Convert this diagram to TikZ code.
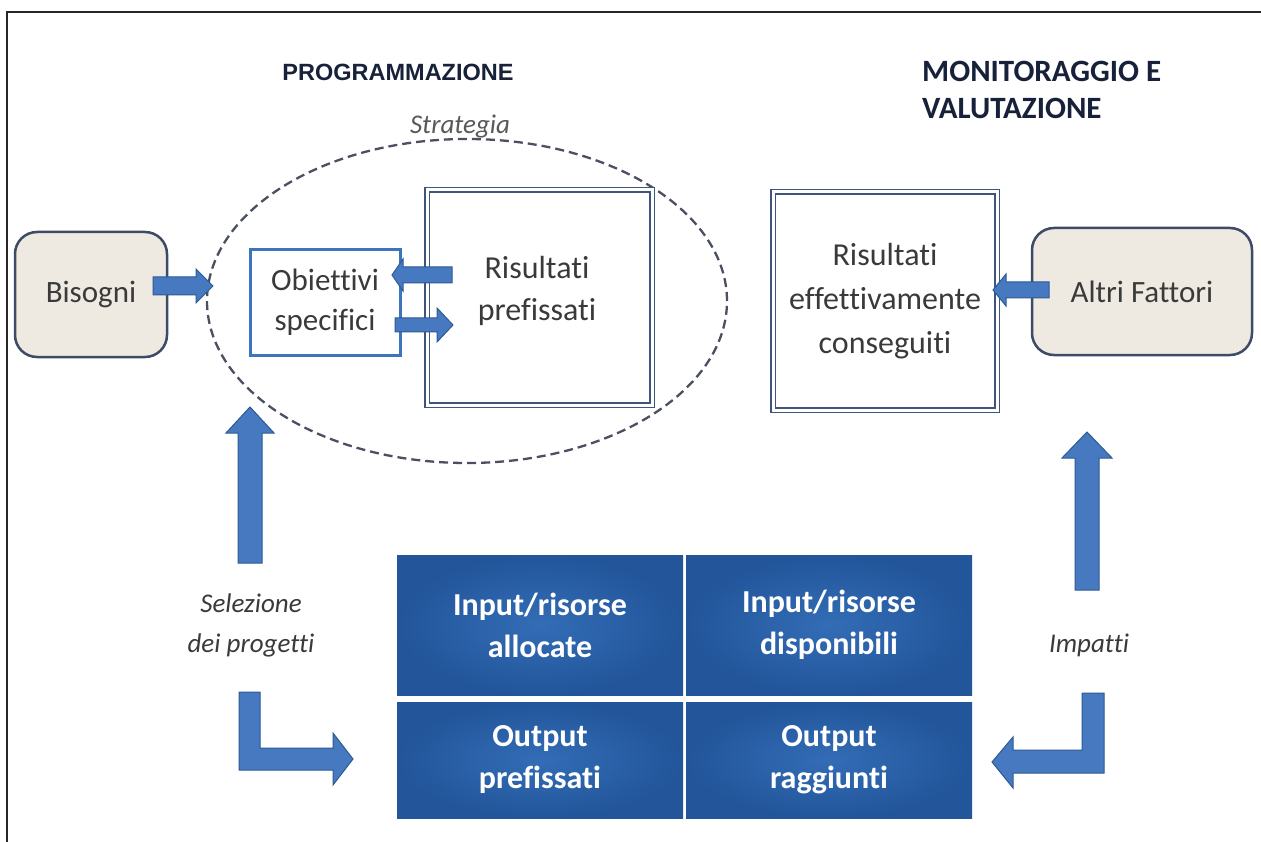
\documentclass[tikz,border=0pt]{standalone}
\usepackage{fontspec}
\setmainfont{Carlito}[Ligatures={NoCommon}]
\newfontfamily\arialfont{Liberation Sans}
\usetikzlibrary{shapes.geometric}
\definecolor{beige}{HTML}{EEEAE1}
\definecolor{boxedge}{HTML}{3D4B66}
\definecolor{goalblue}{HTML}{3C74BD}
\definecolor{dblc}{HTML}{3E5478}
\definecolor{txt}{HTML}{3A3A3A}
\definecolor{head}{HTML}{18213A}
\definecolor{dashc}{HTML}{4A5062}
\definecolor{arrfill}{HTML}{4679BF}
\definecolor{arrdraw}{HTML}{2D5A94}
\definecolor{cellin}{HTML}{336DB6}
\definecolor{cellout}{HTML}{22559A}
\newcommand{\harr}[6]{% start x, head base x, tip x, y, shaft half, head half
  \filldraw[barrow] (#1,#4-#5) -- (#2,#4-#5) -- (#2,#4-#6) -- (#3,#4) -- (#2,#4+#6) -- (#2,#4+#5) -- (#1,#4+#5) -- cycle;}
\newcommand{\varr}[6]{% start y, head base y, tip y, x, shaft half, head half
  \filldraw[barrow] (#4-#5,#1) -- (#4-#5,#2) -- (#4-#6,#2) -- (#4,#3) -- (#4+#6,#2) -- (#4+#5,#2) -- (#4+#5,#1) -- cycle;}
\begin{document}
\begin{tikzpicture}[x=1pt,y=-1pt,
  softbox/.style={draw=boxedge, line width=2.5pt, fill=beige, rounded corners=22pt,
    font=\fontsize{31}{42}\selectfont, text=txt, align=center, inner sep=0pt},
  goalbox/.style={draw=goalblue, line width=3pt, fill=white, align=center,
    font=\fontsize{31}{40}\selectfont, text=txt, inner sep=0pt},
  dblbox/.style={draw=dblc, double=white, double distance=3pt, line width=1.8pt, fill=white,
    align=center, font=\fontsize{32}{44}\selectfont, text=txt, inner sep=0pt},
  cell/.style={inner color=cellin, outer color=cellout, text=white, align=center,
    font=\bfseries\fontsize{32}{42}\selectfont, inner sep=0pt},
  lbl/.style={font=\itshape\fontsize{27}{40}\selectfont, text=txt, align=center, inner sep=0pt},
  barrow/.style={fill=arrfill, draw=arrdraw, line width=1pt, line join=miter}
]
\useasboundingbox (0,0) rectangle (1261,842);
\fill[white] (0,0) rectangle (1261,842);
\draw[line width=2pt, black!85] (7,842) -- (7,12) -- (1261,12);

% headings
\node[font=\arialfont\bfseries\fontsize{23.5}{28}\selectfont, text=head, inner sep=0pt] (prog) at (398,72) {PROGRAMMAZIONE};
\node[font=\bfseries\fontsize{31}{37}\selectfont, text=head, align=left, anchor=west, inner sep=0pt] (monit) at (922,90) {MONITORAGGIO E\\VALUTAZIONE};

% strategy ellipse
\node[ellipse, draw=dashc, dash pattern=on 9pt off 5pt, line width=2.3pt, minimum width=520, minimum height=324] (strat) at (467,301) {};
\node[lbl, text=black!65] (stratlbl) at (460,127) {Strategia};

% boxes
\node[softbox, minimum width=152, minimum height=125] (bis) at (91,294.5) {Bisogni};
\node[goalbox, minimum width=150, minimum height=105] (obi) at (325,302.5) {Obiettivi\\specifici};
\node[dblbox, minimum width=225, minimum height=215] (rp) at (539.5,297.5) {};
\node[font=\fontsize{32}{42}\selectfont, text=txt, align=center] (rptxt) at (537,291) {Risultati\\prefissati};
\node[dblbox, minimum width=224, minimum height=218] (re) at (885,301) {Risultati\\effettivamente\\conseguiti};
\node[softbox, minimum width=220, minimum height=127] (alt) at (1142,291.5) {Altri Fattori};

% grid
\node[cell, minimum width=286, minimum height=140] (c1) at (540,625) {Input/risorse\\allocate};
\node[cell, minimum width=286, minimum height=140] (c2) at (829,625) {Input/risorse\\disponibili};
\node[cell, minimum width=286, minimum height=116] (c3) at (540,760) {Output\\prefissati};
\node[cell, minimum width=286, minimum height=116] (c4) at (829,760) {Output\\raggiunti};

% labels
\node[lbl] (sel) at (251,625) {Selezione\\dei progetti};
\node[lbl] (imp) at (1089,645) {Impatti};

% block arrows
\harr{153}{196}{213}{286}{9}{17}
\harr{452}{403}{392}{275}{8}{16}
\harr{395}{437}{453}{325}{7}{17}
\harr{1049}{1006}{993}{290}{8}{16}
\varr{563}{433}{407}{250}{12}{24}
\varr{590}{458}{432}{1087}{12}{25}
\filldraw[barrow] (239,692) -- (260,692) -- (260,748) -- (333,748) -- (333,733) -- (353,759) -- (333,785) -- (333,770) -- (239,770) -- cycle;
\filldraw[barrow] (1104,693) -- (1082,693) -- (1082,750) -- (1013,750) -- (1013,737) -- (992,762) -- (1013,788) -- (1013,773) -- (1104,773) -- cycle;
\end{tikzpicture}
\end{document}
